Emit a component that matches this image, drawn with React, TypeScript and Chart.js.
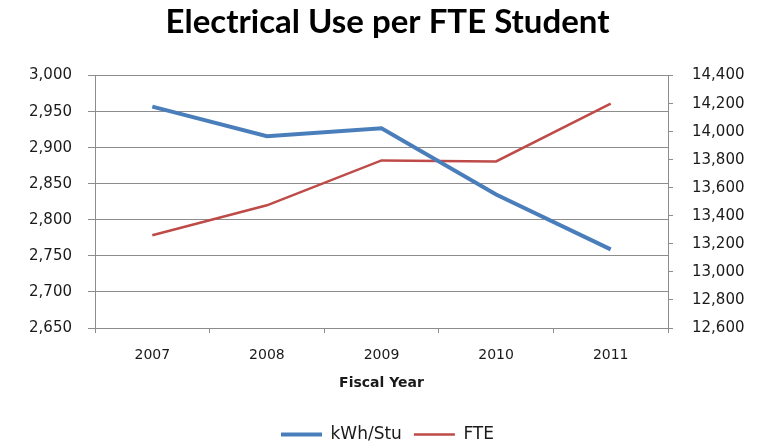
import React, { useEffect, useRef } from "react";
import { Chart, registerables } from "chart.js";

Chart.register(...registerables);

const years = ["2007", "2008", "2009", "2010", "2011"];
const kwhPerStudent = [2957, 2916, 2927, 2835, 2759];
const fteStudents = [13262, 13475, 13795, 13788, 14200];

const leftTicks = { min: 2650, max: 3000, step: 50 };
const rightTicks = { min: 12600, max: 14400, step: 200 };

const titleText = "Electrical Use per FTE Student";
const xTitle = "Fiscal Year";

const TICK_FONT = { family: "'DejaVu Sans', sans-serif", size: 15 };
const GRID = "#8c8c8c";
const TXT = "#1a1a1a";

export default function App() {
  const ref = useRef<HTMLCanvasElement | null>(null);
  useEffect(() => {
    if (!ref.current) return;
    const chart = new Chart(ref.current, {
      type: "line",
      data: {
        labels: years,
        datasets: [
          {
            label: "kWh/Stu",
            data: kwhPerStudent,
            borderColor: "#4A7EBB",
            backgroundColor: "#4A7EBB",
            borderWidth: 4,
            pointRadius: 0,
            pointStyle: "line",
            tension: 0,
            yAxisID: "y",
          },
          {
            label: "FTE",
            data: fteStudents,
            borderColor: "#BE4B48",
            backgroundColor: "#BE4B48",
            borderWidth: 2.5,
            pointRadius: 0,
            pointStyle: "line",
            tension: 0,
            yAxisID: "y1",
          },
        ],
      },
      options: {
        animation: false,
        responsive: false,
        maintainAspectRatio: false,
        layout: { padding: { left: 0, right: 0, top: 0, bottom: -7 } },
        plugins: {
          title: {
            display: true,
            text: titleText,
            color: "#000",
            font: { family: "Lato, sans-serif", size: 33, weight: "bold" },
            padding: { top: 3, bottom: 33 },
          },
          legend: {
            position: "bottom",
            labels: {
              usePointStyle: true,
              pointStyleWidth: 41,
              color: TXT,
              font: { family: "'DejaVu Sans', sans-serif", size: 17, lineHeight: 1 },
              padding: 12,
            },
          },
          tooltip: { enabled: false },
        },
        scales: {
          x: {
            offset: true,
            grid: {
              display: true,
              offset: true,
              drawOnChartArea: false,
              drawTicks: true,
              tickLength: 5,
              color: GRID,
            },
            border: { display: true, color: GRID, width: 1 },
            ticks: { color: TXT, font: { ...TICK_FONT, size: 14 }, padding: 14 },
            title: {
              display: true,
              text: xTitle,
              color: TXT,
              font: { family: "'DejaVu Sans', sans-serif", size: 14, weight: "bold" },
              padding: { top: 0, bottom: 22 },
            },
            afterFit: (s: any) => {
              s.height = 86;
            },
          },
          y: {
            position: "left",
            min: leftTicks.min,
            max: leftTicks.max,
            grid: { color: GRID, tickLength: 7, lineWidth: 1 },
            border: { display: true, color: GRID },
            ticks: {
              stepSize: leftTicks.step,
              color: TXT,
              font: TICK_FONT,
              padding: 16,
              callback: (v: any) => Number(v).toLocaleString("en-US"),
            },
            afterFit: (s: any) => {
              s.width = 95;
            },
          },
          y1: {
            position: "right",
            min: rightTicks.min,
            max: rightTicks.max,
            grid: { drawOnChartArea: false, color: GRID, tickLength: 5 },
            border: { display: true, color: GRID },
            ticks: {
              stepSize: rightTicks.step,
              color: TXT,
              font: TICK_FONT,
              padding: 19,
              callback: (v: any) => Number(v).toLocaleString("en-US"),
            },
            afterFit: (s: any) => {
              s.width = 107;
            },
          },
        },
      },
    });
    return () => chart.destroy();
  }, []);
  return (
    <div style={{ position: "fixed", left: 0, top: 0, width: 775, height: 446, background: "#fff" }}>
      <canvas ref={ref} width={775} height={446} style={{ width: 775, height: 446 }} />
    </div>
  );
}
